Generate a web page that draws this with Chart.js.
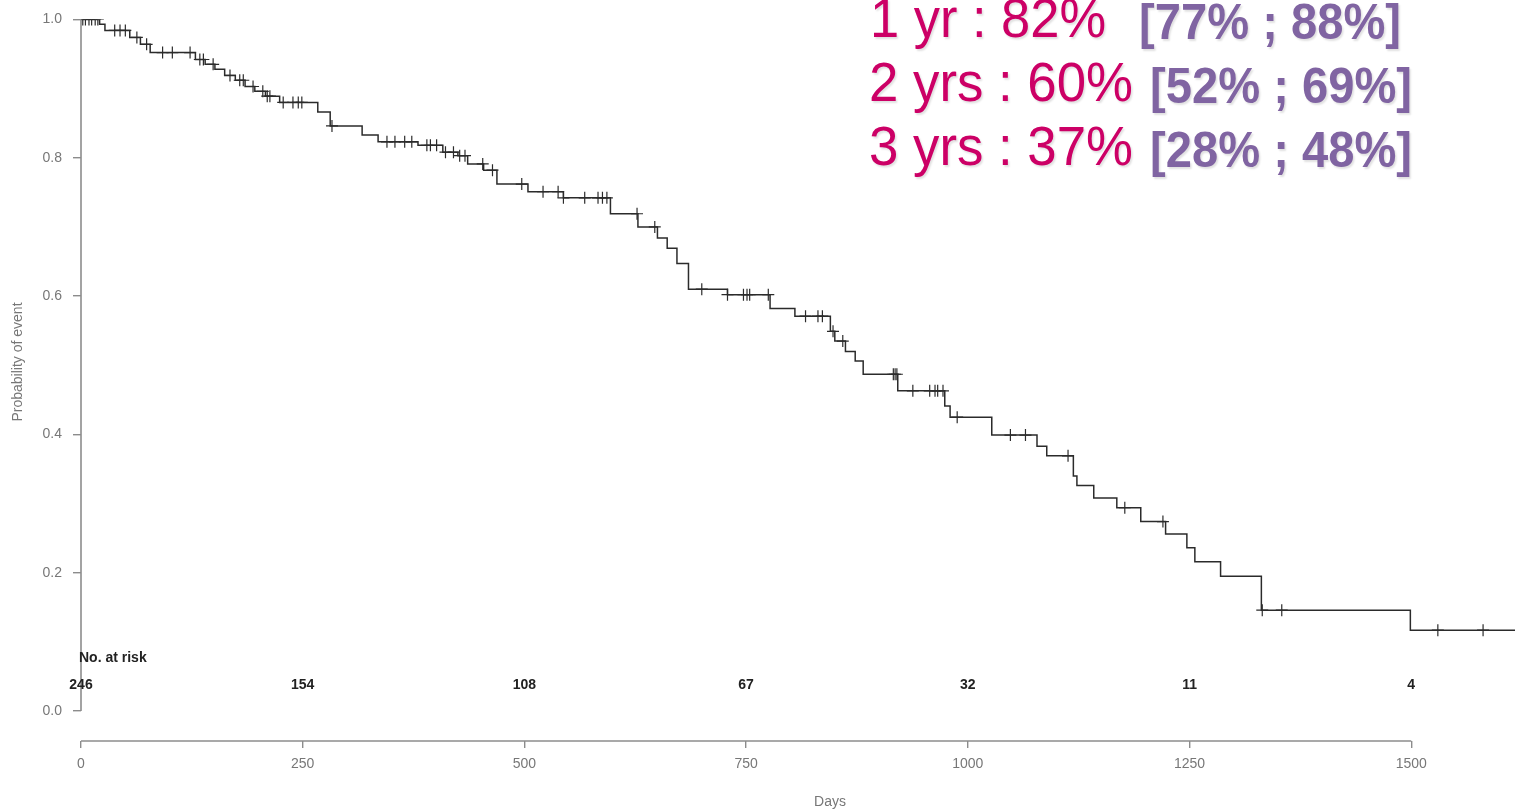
<!DOCTYPE html>
<html>
<head>
<meta charset="utf-8">
<script src="https://cdn.jsdelivr.net/npm/chart.js@4.4.0/dist/chart.umd.min.js"></script>
<style>
  html, body { margin: 0; padding: 0; background: #fff; overflow: hidden; }
</style>
</head>
<body>
<canvas id="km" width="1515" height="812"></canvas>
<script>
// Kaplan-Meier steps (day of event, probability after it)
const eventDays = [21, 27, 55, 67, 78, 129, 140, 151, 162, 174, 185, 196, 208, 224, 267,
  281, 317, 335, 380, 408, 425, 436, 454, 469, 504, 544, 597, 628, 650, 661,
  672, 685, 729, 777, 805, 845, 850, 862, 873, 882, 921, 974, 980, 1027, 1078,
  1089, 1119, 1123, 1142, 1168, 1195, 1223, 1247, 1256, 1285, 1331, 1499];
const survival = [0.993, 0.984, 0.974, 0.964, 0.952, 0.942, 0.935, 0.928, 0.919, 0.912, 0.903, 0.896, 0.889, 0.880, 0.866,
  0.846, 0.833, 0.823, 0.818, 0.808, 0.803, 0.791, 0.782, 0.762, 0.751, 0.742, 0.719, 0.700, 0.684, 0.669,
  0.647, 0.610, 0.602, 0.582, 0.571, 0.549, 0.535, 0.520, 0.506, 0.487, 0.463, 0.441, 0.425, 0.399, 0.383,
  0.369, 0.340, 0.326, 0.308, 0.294, 0.274, 0.256, 0.236, 0.216, 0.195, 0.146, 0.117];
const lastDay = 1617;

// censored patients (days)
const censorDays = [2, 5, 9, 12, 16, 19, 38, 44, 50, 63, 74, 92, 103, 123, 134, 138, 149, 168, 179, 183,
  194, 205, 210, 213, 228, 239, 245, 249, 283, 345, 354, 365, 373, 390, 394, 401, 411, 420, 427, 433,
  453, 464, 497, 521, 538, 544, 568, 583, 588, 593, 627, 647, 700, 729, 747, 751, 754, 775, 817, 831,
  836, 848, 859, 916, 918, 920, 938, 957, 963, 966, 972, 988, 1048, 1065, 1113, 1177, 1220, 1332, 1354,
  1530, 1581];

// number at risk table
const riskDays = [0, 250, 500, 750, 1000, 1250, 1500];
const riskCounts = [246, 154, 108, 67, 32, 11, 4];

const xTicks = [0, 250, 500, 750, 1000, 1250, 1500];
const yTicks = [0, 0.2, 0.4, 0.6, 0.8, 1.0];

// estimates shown top right
const estLabels = ['1 yr : 82%', '2 yrs : 60%', '3 yrs : 37%'];
const estCIs = ['[77% ; 88%]', '[52% ; 69%]', '[28% ; 48%]'];

function levelAt(t) {
  let s = 1;
  for (let i = 0; i < eventDays.length; i++) {
    if (eventDays[i] <= t) s = survival[i];
  }
  return s;
}

const curve = [{ x: 0, y: 1 }];
eventDays.forEach((d, i) => curve.push({ x: d, y: survival[i] }));
curve.push({ x: lastDay, y: survival[survival.length - 1] });

const censored = censorDays.map(d => ({ x: d, y: levelAt(d) }));

const tickFont = { family: 'Liberation Sans, Arial, sans-serif', size: 14 };
const grey = '#777';

// text placed with target left edge and width (the slide text is slightly squeezed)
function fitText(ctx, text, left, width, baseline) {
  const w = ctx.measureText(text).width;
  ctx.save();
  ctx.translate(left, baseline);
  ctx.scale(width / w, 1);
  ctx.fillText(text, 0, 0);
  ctx.restore();
}

const decorations = {
  id: 'decorations',
  afterDraw(chart) {
    const ctx = chart.ctx;
    const xs = chart.scales.x;
    const ys = chart.scales.y;
    const x0 = xs.getPixelForValue(0);
    const y0 = ys.getPixelForValue(0);

    ctx.save();
    // R-style axis lines that only span the tick range
    ctx.strokeStyle = '#8c8c8c';
    ctx.lineWidth = 1.6;
    ctx.beginPath();
    ctx.moveTo(x0, ys.getPixelForValue(1));
    ctx.lineTo(x0, y0);
    ctx.stroke();
    ctx.beginPath();
    ctx.moveTo(x0, chart.chartArea.bottom);
    ctx.lineTo(xs.getPixelForValue(1500), chart.chartArea.bottom);
    ctx.stroke();

    // axis titles
    ctx.fillStyle = grey;
    ctx.font = '14px Liberation Sans, Arial, sans-serif';
    ctx.textAlign = 'center';
    ctx.textBaseline = 'middle';
    ctx.fillText('Days', 830, 802);
    ctx.save();
    ctx.translate(18, 362);
    ctx.rotate(-Math.PI / 2);
    ctx.fillText('Probability of event', 0, 0);
    ctx.restore();

    // number at risk
    ctx.fillStyle = '#222';
    ctx.font = 'bold 14px Liberation Sans, Arial, sans-serif';
    ctx.textAlign = 'left';
    ctx.fillText('No. at risk', x0 - 2, y0 - 53);
    ctx.textAlign = 'center';
    riskDays.forEach((d, i) => {
      ctx.fillText(String(riskCounts[i]), xs.getPixelForValue(d), y0 - 26);
    });

    // estimates
    ctx.textAlign = 'left';
    ctx.textBaseline = 'alphabetic';
    ctx.shadowColor = 'rgba(0,0,0,0.12)';
    ctx.shadowOffsetX = 1.5;
    ctx.shadowOffsetY = 1.5;
    ctx.shadowBlur = 2;
    const baselines = [37, 101, 165];
    const labelBox = [[870, 236], [869, 264], [869, 264]];
    const ciBox = [[1139, 262], [1150, 262], [1150, 262]];
    estLabels.forEach((t, i) => {
      ctx.fillStyle = '#cc0066';
      ctx.font = '56px Liberation Sans, Arial, sans-serif';
      fitText(ctx, t, labelBox[i][0], labelBox[i][1], baselines[i]);
      ctx.fillStyle = '#8064a2';
      ctx.font = 'bold 50px Liberation Sans, Arial, sans-serif';
      fitText(ctx, estCIs[i], ciBox[i][0], ciBox[i][1], baselines[i] + 2);
    });
    ctx.restore();
  }
};

new Chart(document.getElementById('km'), {
  type: 'line',
  data: {
    datasets: [
      {
        label: 'KM',
        data: curve,
        stepped: 'before',
        borderColor: '#2b2b2b',
        borderWidth: 1.5,
        pointRadius: 0,
        fill: false
      },
      {
        label: 'Censored',
        data: censored,
        showLine: false,
        pointStyle: 'cross',
        pointRadius: 6,
        borderColor: '#2b2b2b',
        borderWidth: 1.2
      }
    ]
  },
  options: {
    responsive: false,
    animation: false,
    layout: { autoPadding: false, padding: { top: 17, right: 0, left: 0, bottom: 0 } },
    plugins: { legend: { display: false }, tooltip: { enabled: false } },
    scales: {
      x: {
        type: 'linear',
        min: 0,
        max: lastDay,
        afterBuildTicks: s => { s.ticks = xTicks.map(v => ({ value: v })); },
        afterFit: s => { s.height = 71; },
        border: { display: false },
        grid: { drawOnChartArea: false, drawTicks: true, tickLength: 7, color: '#8c8c8c', lineWidth: 1.4 },
        ticks: { font: tickFont, color: grey, padding: 8, maxRotation: 0, callback: v => String(v) }
      },
      y: {
        type: 'linear',
        min: -0.0432,
        max: 1,
        afterBuildTicks: s => { s.ticks = yTicks.map(v => ({ value: v })); },
        afterFit: s => { s.width = 81; },
        border: { display: false },
        grid: { drawOnChartArea: false, drawTicks: true, tickLength: 8, color: '#8c8c8c', lineWidth: 1.4 },
        ticks: { font: tickFont, color: grey, padding: 11, callback: v => v.toFixed(1) }
      }
    }
  },
  plugins: [decorations]
});
</script>
</body>
</html>
